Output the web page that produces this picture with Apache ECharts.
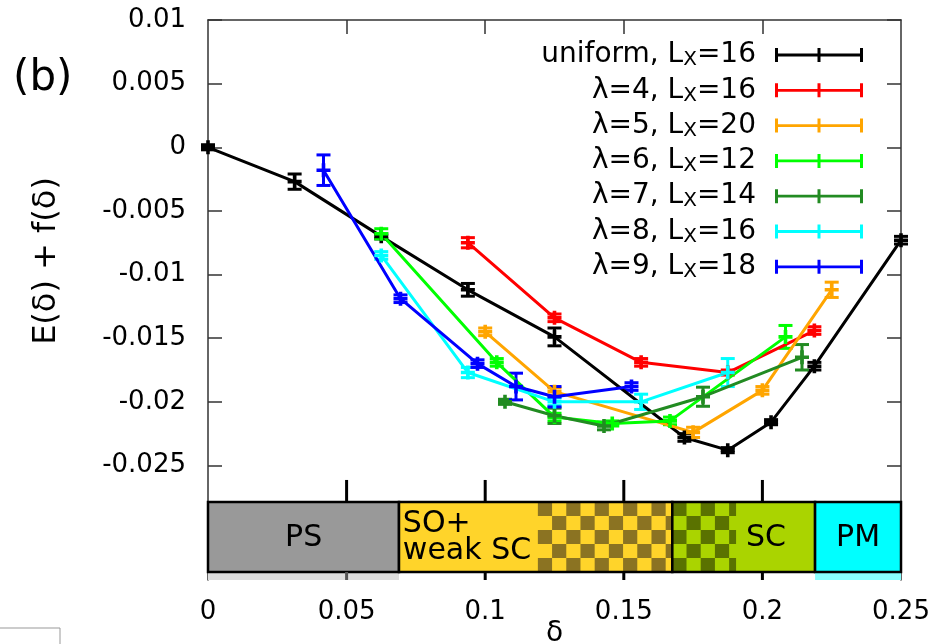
<!DOCTYPE html>
<html><head><meta charset="utf-8">
<script src="https://cdn.jsdelivr.net/npm/echarts@6/dist/echarts.min.js"></script>
<style>html,body{margin:0;padding:0;background:#fff}#c{width:932px;height:644px}</style>
</head><body><div id="c"></div>
<script>
// ---------- data ----------
const xTicks = [0, 0.05, 0.1, 0.15, 0.2, 0.25];
const yTicks = [0.01, 0.005, 0, -0.005, -0.01, -0.015, -0.02, -0.025];

const seriesNames = ['uniform, Lx=16', 'λ=4, Lx=16', 'λ=5, Lx=20', 'λ=6, Lx=12', 'λ=7, Lx=14', 'λ=8, Lx=16', 'λ=9, Lx=18'];

const uniformX   = [0, 0.03125, 0.0625, 0.09375, 0.125, 0.171875, 0.1875, 0.203125, 0.21875, 0.25];
const uniformY   = [0, -0.0027, -0.0070, -0.0112, -0.0149, -0.0228, -0.0238, -0.0216, -0.0172, -0.0073];
const uniformErr = [0.0002, 0.0006, 0.0002, 0.0005, 0.0007, 0.0003, 0.0002, 0.0002, 0.0003, 0.0003];

const lam4X   = [0.09375, 0.125, 0.15625, 0.1875, 0.21875];
const lam4Y   = [-0.0075, -0.0134, -0.0169, -0.0177, -0.0144];
const lam4Err = [0.0004, 0.0003, 0.0003, 0.0002, 0.0003];

const lam5X   = [0.1, 0.125, 0.175, 0.2, 0.225];
const lam5Y   = [-0.0145, -0.0192, -0.0224, -0.0191, -0.0112];
const lam5Err = [0.0003, 0.0003, 0.0004, 0.0003, 0.0006];

const lam6X   = [0.0625, 0.104167, 0.125, 0.145833, 0.166667, 0.208333];
const lam6Y   = [-0.0068, -0.0169, -0.0212, -0.0217, -0.0215, -0.0149];
const lam6Err = [0.0004, 0.0003, 0.0003, 0.0002, 0.0003, 0.0009];

const lam7X   = [0.107143, 0.125, 0.142857, 0.178571, 0.214286];
const lam7Y   = [-0.0200, -0.0211, -0.0219, -0.0196, -0.0165];
const lam7Err = [0.0002, 0.0006, 0.0003, 0.00075, 0.001];

const lam8X   = [0.0625, 0.09375, 0.125, 0.15625, 0.1875];
const lam8Y   = [-0.0085, -0.0177, -0.0200, -0.0200, -0.0177];
const lam8Err = [0.0003, 0.0004, 0.0003, 0.0006, 0.0011];

const lam9X   = [0.041667, 0.069444, 0.097222, 0.111111, 0.125, 0.152778];
const lam9Y   = [-0.0018, -0.0119, -0.0170, -0.0188, -0.0196, -0.0188];
const lam9Err = [0.0012, 0.0003, 0.0003, 0.00105, 0.0008, 0.0003];

// phase diagram band (boundaries in δ)
const phaseNames   = ['PS', 'SO+\nweak SC', 'SC', 'PM'];
const phaseFrom    = [0, 0.0689, 0.1675, 0.219];
const phaseTo      = [0.0689, 0.1675, 0.219, 0.25];
const checkerFrom  = [null, 0.1190, 0.1675, null];
const checkerTo    = [null, 0.1675, 0.1905, null];
const phaseLabelAt = [0.0345, 0.0703, 0.2013, 0.2345];

// ---------- styles / layout ----------
const FONT = 'DejaVu Sans';
const colors = ['#000000', '#ff0000', '#ffa500', '#00ff00', '#228b22', '#00ffff', '#0000ff'];
const phaseFill  = ['#999999', '#ffd42a', '#aad400', '#00ffff'];
const phaseDark  = [null, '#8b7322', '#5a7200', null];
const stripFill  = ['#dddddd', null, null, '#88ffff'];
const phaseAlign = ['center', 'left', 'center', 'center'];
const Y_MIN = -0.034, Y_MAX = 0.01;
const BAND_TOP = -0.02787, BAND_BOTTOM = -0.03337, TICK_TOP = -0.02614;

const xs = [uniformX, lam4X, lam5X, lam6X, lam7X, lam8X, lam9X];
const ys = [uniformY, lam4Y, lam5Y, lam6Y, lam7Y, lam8Y, lam9Y];
const es = [uniformErr, lam4Err, lam5Err, lam6Err, lam7Err, lam8Err, lam9Err];

const PLUS = 'path://M-1.8,-7H1.8V-1.8H7V1.8H1.8V7H-1.8V1.8H-7V-1.8H-1.8Z';
const LEG_ICON = 'path://M0,0H3V14H0Z M85,0H88V14H85Z M42.5,0H45.5V14H42.5Z M0,5.6H88V8.4H0Z';

function fmt(v) {
  if (Math.abs(v) < 1e-12) return '0';
  return String(parseFloat(v.toFixed(5)));
}

const series = [];

// phase band
series.push({
  type: 'custom', name: 'phases', silent: true, z: 5,
  data: phaseNames.map((n, i) => [phaseFrom[i], phaseTo[i], i]),
  encode: { x: [0, 1] },
  renderItem: function (params, api) {
    const i = params.dataIndex;
    const a = api.coord([phaseFrom[i], BAND_TOP]);
    const b = api.coord([phaseTo[i], BAND_BOTTOM]);
    const sb = api.coord([phaseTo[i], Y_MIN]);
    const ch = [];
    if (stripFill[i]) {
      ch.push({ type: 'rect', shape: { x: a[0], y: b[1], width: b[0] - a[0], height: sb[1] - b[1] }, style: { fill: stripFill[i] } });
    }
    ch.push({ type: 'rect', shape: { x: a[0], y: a[1], width: b[0] - a[0], height: b[1] - a[1] }, style: { fill: phaseFill[i] } });
    if (checkerFrom[i] != null) {
      const c0 = api.coord([checkerFrom[i], BAND_TOP])[0];
      const c1 = api.coord([checkerTo[i], BAND_TOP])[0];
      const rows = 5, cellH = (b[1] - a[1]) / rows, cellW = 14.2;
      for (let col = 0; c0 + col * cellW < c1 - 0.5; col++) {
        for (let row = 0; row < rows; row++) {
          if ((col + row) % 2 === 0) {
            const x = c0 + col * cellW;
            ch.push({ type: 'rect', shape: { x: x, y: a[1] + row * cellH, width: Math.min(cellW, c1 - x), height: cellH }, style: { fill: phaseDark[i] } });
          }
        }
      }
    }
    ch.push({ type: 'rect', shape: { x: a[0], y: a[1], width: b[0] - a[0], height: b[1] - a[1] }, style: { fill: null, stroke: '#000', lineWidth: 2.5 } });
    const lx = api.coord([phaseLabelAt[i], BAND_TOP])[0];
    ch.push({ type: 'text', style: { x: lx, y: (a[1] + b[1]) / 2 + 1, text: phaseNames[i], align: phaseAlign[i], verticalAlign: 'middle', font: '30px ' + FONT, fill: '#000', lineHeight: 27 } });
    return { type: 'group', children: ch };
  }
});

// stray ticks around the band
series.push({
  type: 'custom', name: 'bandTicks', silent: true, z: 6,
  data: xTicks.slice(1, -1).map(v => [v]),
  encode: { x: 0 },
  renderItem: function (params, api) {
    const v = api.value(0);
    const t = api.coord([v, TICK_TOP]);
    const bt = api.coord([v, BAND_TOP]);
    const bb = api.coord([v, BAND_BOTTOM]);
    const sb = api.coord([v, Y_MIN]);
    return { type: 'group', children: [
      { type: 'line', shape: { x1: t[0], y1: t[1], x2: bt[0], y2: bt[1] }, style: { stroke: '#000', lineWidth: 3 } },
      { type: 'line', shape: { x1: bb[0], y1: bb[1], x2: sb[0], y2: sb[1] }, style: { stroke: v < 0.07 ? '#555' : '#000', lineWidth: 3 } }
    ] };
  }
});

seriesNames.forEach((name, k) => {
  const col = colors[k];
  series.push({
    type: 'custom', name: name + ' err', silent: true, z: 3,
    data: xs[k].map((x, i) => [x, ys[k][i] - es[k][i], ys[k][i] + es[k][i]]),
    encode: { x: 0, y: [1, 2] },
    renderItem: function (params, api) {
      const x = api.value(0);
      const p1 = api.coord([x, api.value(2)]);
      const p2 = api.coord([x, api.value(1)]);
      const w = 7;
      const st = { stroke: col, lineWidth: 3 };
      return { type: 'group', children: [
        { type: 'line', shape: { x1: p1[0], y1: p1[1], x2: p2[0], y2: p2[1] }, style: st },
        { type: 'line', shape: { x1: p1[0] - w, y1: p1[1], x2: p1[0] + w, y2: p1[1] }, style: st },
        { type: 'line', shape: { x1: p2[0] - w, y1: p2[1], x2: p2[0] + w, y2: p2[1] }, style: st }
      ] };
    }
  });
  series.push({
    type: 'line', name: name, z: 3,
    data: xs[k].map((x, i) => [x, ys[k][i]]),
    symbol: PLUS, symbolSize: 14, showSymbol: true,
    lineStyle: { color: col, width: 3 },
    itemStyle: { color: col },
    clip: true
  });
});

const chart = echarts.init(document.getElementById('c'), null, { renderer: 'canvas' });
chart.setOption({
  animation: false,
  backgroundColor: '#fff',
  grid: { left: 208, right: 31, top: 20, bottom: 64, containLabel: false, outerBoundsMode: 'none' },
  xAxis: [{
    type: 'value', min: 0, max: 0.25, position: 'bottom',
    axisLine: { show: false, onZero: false }, axisTick: { show: false }, splitLine: { show: false },
    axisLabel: { customValues: xTicks, formatter: fmt, fontFamily: FONT, fontSize: 26, color: '#000', margin: 19 },
    name: 'δ', nameLocation: 'middle', nameGap: 40, nameMoveOverlap: false,
    nameTextStyle: { fontFamily: FONT, fontSize: 28, color: '#000' }
  }, {
    type: 'value', min: 0, max: 0.25, position: 'top',
    axisLine: { show: true, onZero: false, lineStyle: { color: '#333', width: 1.5 } },
    axisTick: { show: true, inside: true, length: 14, customValues: xTicks.slice(1, -1), lineStyle: { color: '#333', width: 1.5 } },
    axisLabel: { show: false }, splitLine: { show: false }
  }],
  yAxis: [{
    type: 'value', min: Y_MIN, max: Y_MAX, position: 'left',
    axisLine: { show: true, onZero: false, lineStyle: { color: '#333', width: 1.5 } },
    axisTick: { show: true, inside: true, length: 14, customValues: yTicks, lineStyle: { color: '#333', width: 1.5 } },
    axisLabel: { customValues: yTicks, formatter: fmt, fontFamily: FONT, fontSize: 26, color: '#000', margin: 22 },
    splitLine: { show: false }
  }, {
    type: 'value', min: Y_MIN, max: Y_MAX, position: 'right',
    axisLine: { show: true, onZero: false, lineStyle: { color: '#333', width: 1.5 } },
    axisTick: { show: true, inside: true, length: 14, customValues: yTicks, lineStyle: { color: '#333', width: 1.5 } },
    axisLabel: { show: false }, splitLine: { show: false }
  }],
  legend: {
    data: seriesNames, orient: 'vertical', align: 'right', right: 69, top: 40, padding: 0,
    itemGap: 5.3, itemWidth: 88, itemHeight: 14, icon: LEG_ICON, selectedMode: false,
    itemStyle: { borderWidth: 0 },
    formatter: n => n.replace('Lx', 'L{s|X}'),
    textStyle: {
      fontFamily: FONT, fontSize: 28, color: '#000', lineHeight: 30, padding: [0, 14, 0, 0],
      rich: { s: { fontFamily: FONT, fontSize: 20, color: '#000', verticalAlign: 'bottom', lineHeight: 16 } }
    }
  },
  graphic: [
    { type: 'text', x: 13, y: 79, style: { text: '(b)', font: '42px ' + FONT, fill: '#000', verticalAlign: 'middle' } },
    { type: 'text', x: 47, y: 261, rotation: Math.PI / 2, style: { text: 'E(δ) + f(δ)', font: '32px ' + FONT, fill: '#000', align: 'center', verticalAlign: 'middle' } },
    { type: 'polyline', shape: { points: [[0, 628], [60, 628], [60, 644]] }, style: { stroke: '#999', lineWidth: 1, fill: null } }
  ],
  series: series
});
</script>
</body></html>
